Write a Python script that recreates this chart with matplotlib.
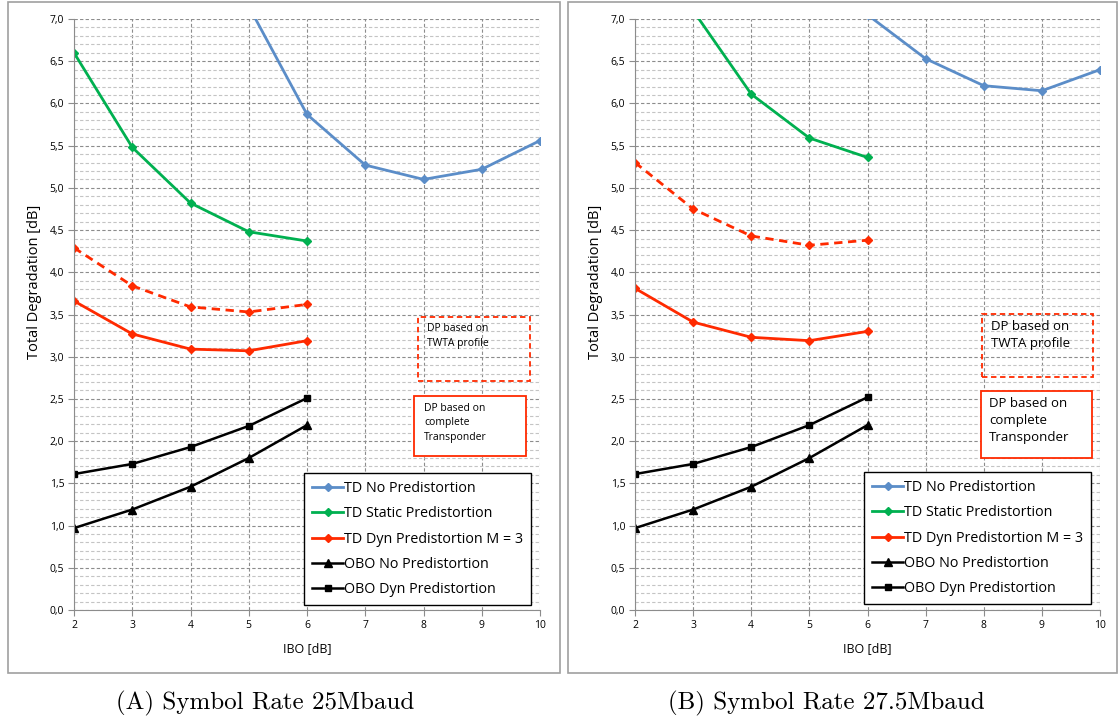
import matplotlib
matplotlib.use("Agg")
import matplotlib.pyplot as plt
from matplotlib.patches import Rectangle
from matplotlib.ticker import MultipleLocator, FuncFormatter

plt.rcParams['font.family'] = ['Open Sans', 'DejaVu Sans']

ibo = [2, 3, 4, 5, 6, 7, 8, 9, 10]
ibo_low = [2, 3, 4, 5, 6]

# (a) 25 Mbaud
a_td_no_x = [5, 6, 7, 8, 9, 10]
a_td_no = [7.15, 5.87, 5.27, 5.10, 5.22, 5.56]
a_td_static = [6.60, 5.48, 4.82, 4.48, 4.37]
a_td_dyn_twta = [4.29, 3.84, 3.59, 3.53, 3.62]
a_td_dyn = [3.66, 3.27, 3.09, 3.07, 3.19]
a_obo_no = [0.97, 1.19, 1.46, 1.80, 2.19]
a_obo_dyn = [1.61, 1.73, 1.93, 2.18, 2.51]

# (b) 27.5 Mbaud
b_td_no_x = [6, 7, 8, 9, 10]
b_td_no = [7.05, 6.53, 6.21, 6.15, 6.40]
b_td_static_x = [3, 4, 5, 6]
b_td_static = [7.10, 6.11, 5.59, 5.36]
b_td_dyn_twta = [5.30, 4.75, 4.43, 4.32, 4.38]
b_td_dyn = [3.81, 3.41, 3.23, 3.19, 3.30]
b_obo_no = [0.97, 1.19, 1.46, 1.80, 2.19]
b_obo_dyn = [1.61, 1.73, 1.93, 2.19, 2.52]

labels = ["TD No Predistortion", "TD Static Predistortion", "TD Dyn Predistortion M = 3",
          "OBO No Predistortion", "OBO Dyn Predistortion"]
captions = ["(A) Symbol Rate 25Mbaud", "(B) Symbol Rate 27.5Mbaud"]

BLUE = '#5b8dc8'
GREEN = '#00b050'
RED = '#ff2a00'

fig = plt.figure(figsize=(11.19, 7.2), dpi=100)
W, H = 1119, 720


def px_axes(x0, x1, y0, y1):
    return fig.add_axes([x0 / W, 1 - y1 / H, (x1 - x0) / W, (y1 - y0) / H])


def draw_panel(ax, td_no_x, td_no, st_x, st, twta, dyn, obo_no, obo_dyn, note_size, boxes, leg_anchor):
    ax.plot(td_no_x, td_no, color=BLUE, lw=2, marker='D', ms=4.5, label=labels[0])
    ax.plot(st_x, st, color=GREEN, lw=2, marker='D', ms=4.5, label=labels[1])
    ax.plot(ibo_low, dyn, color=RED, lw=2, marker='D', ms=4.5, label=labels[2])
    ax.plot(ibo_low, twta, color=RED, lw=2, ls=(0, (3, 2)), marker='D', ms=4.5)
    ax.plot(ibo_low, obo_no, color='black', lw=1.8, marker='^', ms=5.5, label=labels[3])
    ax.plot(ibo_low, obo_dyn, color='black', lw=1.8, marker='s', ms=4.5, label=labels[4])

    ax.set_xlim(2, 10)
    ax.set_ylim(0, 7)
    ax.set_xticks(ibo)
    ax.yaxis.set_major_locator(MultipleLocator(0.5))
    ax.yaxis.set_minor_locator(MultipleLocator(0.1))
    ax.yaxis.set_major_formatter(FuncFormatter(lambda v, p: f"{v:.1f}".replace('.', ',')))
    ax.grid(which='major', axis='both', color='#8c8c8c', ls=(0, (3, 2)), lw=0.8)
    ax.grid(which='minor', axis='y', color='#c4c4c4', ls=(0, (3, 2)), lw=0.8)
    ax.set_axisbelow(True)
    for s in ['top', 'right']:
        ax.spines[s].set_visible(False)
    for s in ['left', 'bottom']:
        ax.spines[s].set_color('#8c8c8c')
    ax.tick_params(which='major', length=4, color='#8c8c8c', labelsize=7.5, pad=3)
    ax.tick_params(which='minor', length=0)
    ax.set_xlabel("IBO [dB]", fontsize=9, labelpad=8)
    ax.set_ylabel("Total Degradation [dB]", fontsize=10.5)
    ax.yaxis.set_label_coords(-0.068, 0.555)

    (d0, d1, d2, d3, dtx, dty), (s0, s1, s2, s3, stx, sty) = boxes
    ax.add_patch(Rectangle((d0, d2), d1 - d0, d3 - d2, transform=ax.transAxes, fill=False,
                           ec=RED, lw=1.3, ls=(0, (3, 2)), zorder=5))
    ax.add_patch(Rectangle((s0, s2), s1 - s0, s3 - s2, transform=ax.transAxes, fill=True,
                           fc='white', ec=RED, lw=1.3, zorder=5))
    ax.text(dtx, dty, "DP based on\nTWTA profile", transform=ax.transAxes, fontsize=note_size,
            va='top', ha='left', linespacing=1.4, zorder=6)
    ax.text(stx, sty, "DP based on\ncomplete\nTransponder", transform=ax.transAxes,
            fontsize=note_size, va='top', ha='left', linespacing=1.4, zorder=6)

    leg = ax.legend(loc='lower right', bbox_to_anchor=leg_anchor, fontsize=10.3, frameon=True,
                    fancybox=False, framealpha=1, edgecolor='black', handlelength=2.2,
                    handletextpad=0.05, labelspacing=0.72, borderpad=0.55, borderaxespad=0)
    leg.get_frame().set_linewidth(1.0)
    leg.set_zorder(7)


# panel borders
for x0, x1 in [(8, 560), (568, 1117)]:
    fig.add_artist(Rectangle((x0 / W, 1 - 673 / H), (x1 - x0) / W, 671 / H, transform=fig.transFigure,
                             fill=False, ec='#a0a0a0', lw=1.2))

ax1 = px_axes(74, 540, 19, 610)
draw_panel(ax1, a_td_no_x, a_td_no, ibo_low, a_td_static, a_td_dyn_twta, a_td_dyn, a_obo_no, a_obo_dyn,
           7.5,
           ((0.738, 0.979, 0.3875, 0.496, 0.758, 0.485),
            (0.730, 0.970, 0.2606, 0.362, 0.751, 0.350)),
           (0.981, 0.0085))

ax2 = px_axes(635, 1100, 19, 610)
draw_panel(ax2, b_td_no_x, b_td_no, b_td_static_x, b_td_static, b_td_dyn_twta, b_td_dyn, b_obo_no, b_obo_dyn,
           9.5,
           ((0.746, 0.985, 0.394, 0.501, 0.766, 0.490),
            (0.744, 0.983, 0.257, 0.3706, 0.761, 0.360)),
           (0.981, 0.010))

for cap, xc in zip(captions, [265, 826]):
    fig.text(xc / W, 1 - 703 / H, cap, fontsize=18, family=['cmr10', 'DejaVu Serif'],
             ha='center', va='center')

fig.savefig("out.png", dpi=100)
